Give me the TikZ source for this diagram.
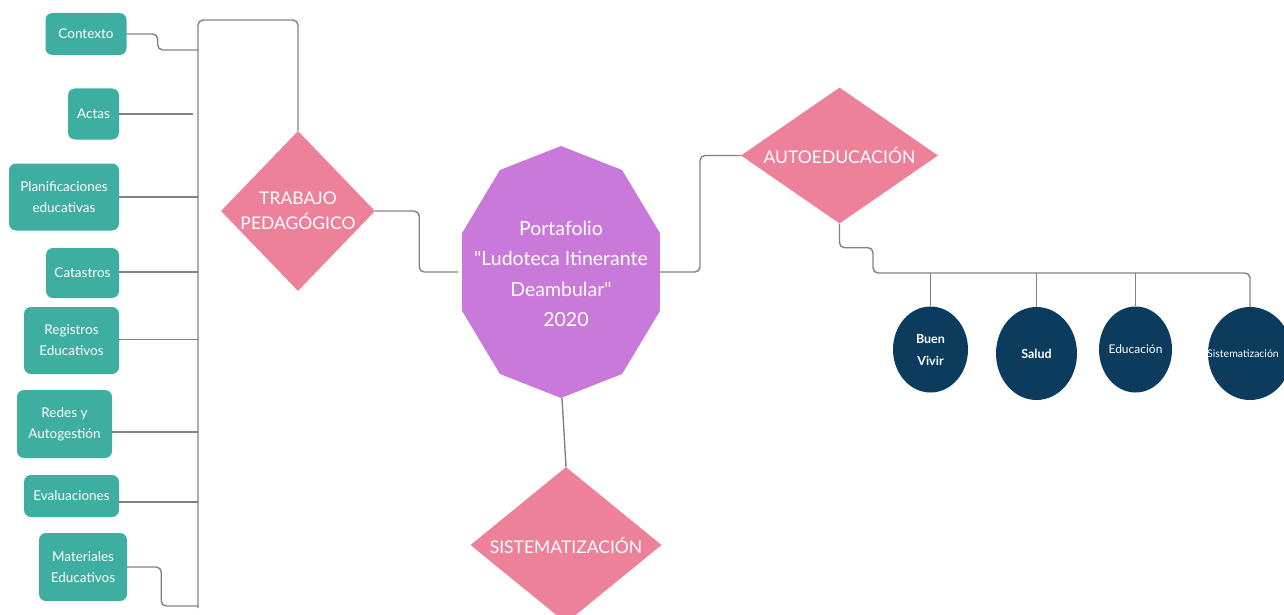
\documentclass[tikz,border=0pt]{standalone}
\usepackage{fontspec}
\setmainfont{Lato}
% plain family without TeX ligature mapping, so " stays a straight quote
\newfontfamily\hubfont{Lato}
\usetikzlibrary{shapes.geometric,calc}
\definecolor{leafteal}{HTML}{3DAE9F}
\definecolor{topicpink}{HTML}{EC8199}
\definecolor{hubviolet}{HTML}{C979D9}
\definecolor{dotnavy}{HTML}{0B3C5D}
\definecolor{wiregray}{HTML}{828282}
\begin{document}
\begin{tikzpicture}[x=1pt,y=-1pt,
  leaf/.style={draw=none,fill=leafteal,rounded corners=7pt,text=white,
    inner sep=0pt,align=center,font=\fontsize{13.5}{21}\selectfont},
  topic/.style={diamond,fill=topicpink,text=white,inner sep=0pt,
    align=center,font=\fontsize{17.5}{25}\selectfont},
  dot/.style={ellipse,fill=dotnavy,text=white,inner sep=0pt,align=center,
    font=\fontsize{12}{21}\selectfont},
  wire/.style={draw=wiregray,line width=1.4pt,rounded corners=5pt}]
\clip (0,0) rectangle (1284,615);

% left column of items
\node[leaf,minimum width=81,minimum height=42] (ctx) at (86,34) {Contexto};
\node[leaf,minimum width=51,minimum height=51] (act) at (93.5,114) {Actas};
\node[leaf,minimum width=110,minimum height=67] (pla) at (64,197) {Planificaciones\\educativas};
\node[leaf,minimum width=73,minimum height=50] (cat) at (82.5,273) {Catastros};
\node[leaf,minimum width=95,minimum height=67] (reg) at (71.5,340.5) {Registros\\Educativos};
\node[leaf,minimum width=95,minimum height=68] (red) at (64.5,424) {Redes y\\Autogestión};
\node[leaf,minimum width=95,minimum height=42] (eva) at (71.5,496) {Evaluaciones};
\node[leaf,minimum width=88,minimum height=68] (mat) at (83,567) {Materiales\\Educativos};

% pedagogical work
\node[topic,minimum width=154,minimum height=160,shape aspect=1] (trab) at (298,211)
  {TRABAJO\\PEDAGÓGICO};

% central portfolio (ten-sided hub)
\fill[hubviolet] (561,146)
  \foreach \a in {126,162,198,234,270,306,342,18,54} {
    -- ({561+104*cos(\a)},{272-126*sin(\a)}) } -- cycle;
\coordinate (pw) at (458,272);
\coordinate (pe) at (660,272);
\coordinate (ps) at (562,398);
\node[text=white,align=center,font=\hubfont\fontsize{19.5}{30.5}\selectfont] (port) at (561,274)
  {Portafolio\\"Ludoteca Itinerante\\Deambular"\\\ \ 2020};

\node[topic,minimum width=191,minimum height=156,shape aspect=1.3] (sist) at (566,545)
  {SISTEMATIZACIÓN};
\node[topic,minimum width=197,minimum height=136,shape aspect=1.5] (auto) at (839.5,155.5)
  {AUTOEDUCACIÓN};

% outcome circles
\node[dot,minimum width=75,minimum height=86,font=\bfseries\fontsize{12.5}{22}\selectfont] (bv) at (930.5,349.5) {Buen\\Vivir};
\node[dot,minimum width=81,minimum height=93,font=\bfseries\fontsize{12.5}{22}\selectfont] (sal) at (1036.5,353.5) {Salud};
\node[dot,minimum width=73,minimum height=86] (edu) at (1135.5,349.5) {\makebox[46pt]{Educación}};
\node[dot,minimum width=84,minimum height=93,font=\fontsize{10.5}{20}\selectfont] (sis) at (1250,353.5)
  {\makebox[50pt]{\hspace*{-14pt}Sistematización}};

% left bus and its branches
\coordinate (bus) at (198,20);
\coordinate (busend) at (198,608);
\draw[wire] (busend) -- (bus) -| (trab.north);
\draw[wire] (ctx.east) -- ++(31,0) |- ($(ctx.east -| bus)+(0,16)$);
\draw[wire] (act.east) -- ($(act.east -| bus)+(-5,0)$);
\draw[wire] (pla.east) -- (pla.east -| bus);
\draw[wire] ([yshift=1pt]cat.east) -- ([yshift=1pt]cat.east -| bus);
\draw[wire] ([yshift=1pt]reg.east) -- ([yshift=1pt]reg.east -| bus);
\draw[wire] ([yshift=-8pt]red.east) -- ([yshift=-8pt]red.east -| bus);
\draw[wire] ([yshift=-6pt]eva.east) -- ([yshift=-6pt]eva.east -| bus);
\draw[wire] (mat.east) -- ++(34,0) |- ($(mat.east -| busend)+(0,39)$);

% hub connections
\draw[wire] (trab.east) -- ++(44,0) |- (pw);
\draw[wire] (pe) -- ++(40,0) |- (auto.west);
\draw[wire] (ps) -- (sist.north);

% right bus to the circles
\coordinate (hbus) at (873,273);
\draw[wire] (auto.south) -- ++(0,24) -| (hbus) -- (hbus -| sis.north) -- (sis.north);
\draw[wire] (bv.north |- hbus) -- (bv.north);
\draw[wire] (sal.north |- hbus) -- (sal.north);
\draw[wire] (edu.north |- hbus) -- (edu.north);
\end{tikzpicture}
\end{document}
